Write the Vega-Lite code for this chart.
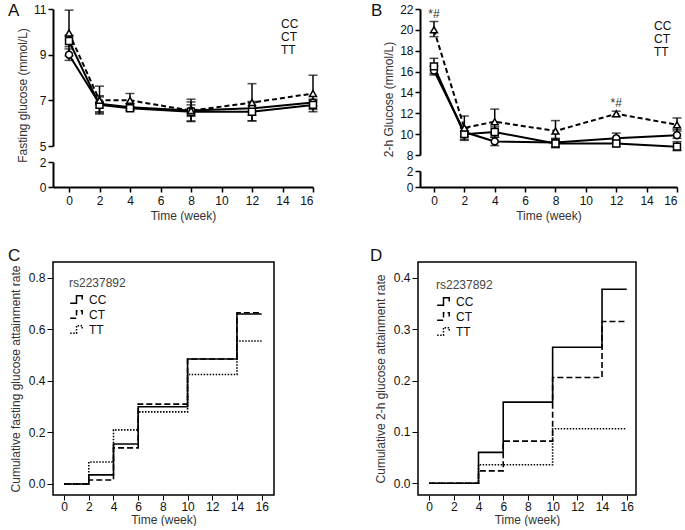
{
  "$schema": "https://vega.github.io/schema/vega-lite/v6.json",
  "padding": {"left": 7, "top": 2, "right": 0, "bottom": 0},
  "background": "white",
  "spacing": 25,
  "resolve": {"scale": {"shape": "independent", "strokeDash": "independent"}, "legend": {"shape": "independent", "strokeDash": "independent"}},
  "config": {
    "font": "Liberation Sans",
    "view": {"stroke": null},
    "axis": {"grid": false, "domainColor": "black", "domainWidth": 2, "tickColor": "black", "tickWidth": 1.5, "tickSize": 5, "labelFontSize": 12, "labelColor": "#111", "labelPadding": 2, "titleFontSize": 12, "titleFontWeight": "normal", "titleColor": "#333", "labelFont": "Liberation Sans", "titleFont": "Liberation Sans"},
    "axisX": {"labelPadding": 3, "titlePadding": 4},
    "legend": {"labelFontSize": 12, "labelColor": "#111", "titleFontSize": 12, "titleFontWeight": "normal", "titleColor": "#444", "labelFont": "Liberation Sans", "titleFont": "Liberation Sans"},
    "title": {"fontSize": 17, "fontWeight": "normal", "anchor": "start", "frame": "group", "offset": 0, "baseline": "alphabetic", "color": "#111"}
  },
  "datasets": {
    "fasting": [
      {"g": "CC", "t": 0, "m": 9.0, "lo": 8.75, "hi": 9.25},
      {"g": "CC", "t": 2, "m": 6.85, "lo": 6.5, "hi": 7.2},
      {"g": "CC", "t": 4, "m": 6.7, "lo": 6.55, "hi": 6.85},
      {"g": "CC", "t": 8, "m": 6.55, "lo": 6.3, "hi": 6.8},
      {"g": "CC", "t": 12, "m": 6.65, "lo": 6.35, "hi": 6.95},
      {"g": "CC", "t": 16, "m": 6.9, "lo": 6.75, "hi": 7.05},
      {"g": "CT", "t": 0, "m": 9.6, "lo": 9.35, "hi": 9.85},
      {"g": "CT", "t": 2, "m": 6.8, "lo": 6.45, "hi": 7.15},
      {"g": "CT", "t": 4, "m": 6.65, "lo": 6.55, "hi": 6.75},
      {"g": "CT", "t": 8, "m": 6.5, "lo": 6.07, "hi": 6.93},
      {"g": "CT", "t": 12, "m": 6.5, "lo": 6.1, "hi": 6.9},
      {"g": "CT", "t": 16, "m": 6.8, "lo": 6.6, "hi": 7.0},
      {"g": "TT", "t": 0, "m": 9.95, "lo": 8.95, "hi": 10.95},
      {"g": "TT", "t": 2, "m": 7.0, "lo": 6.4, "hi": 7.62},
      {"g": "TT", "t": 4, "m": 7.0, "lo": 6.7, "hi": 7.3},
      {"g": "TT", "t": 8, "m": 6.55, "lo": 6.1, "hi": 7.05},
      {"g": "TT", "t": 12, "m": 6.9, "lo": 6.1, "hi": 7.73},
      {"g": "TT", "t": 16, "m": 7.3, "lo": 6.5, "hi": 8.1}
    ],
    "ogtt": [
      {"g": "CC", "t": 0, "m": 16.1, "lo": 15.67, "hi": 16.5},
      {"g": "CC", "t": 2, "m": 10.2, "lo": 9.8, "hi": 10.6},
      {"g": "CC", "t": 4, "m": 9.3, "lo": 8.9, "hi": 9.7},
      {"g": "CC", "t": 8, "m": 9.2, "lo": 8.8, "hi": 9.6},
      {"g": "CC", "t": 12, "m": 9.6, "lo": 9.2, "hi": 10.1},
      {"g": "CC", "t": 16, "m": 9.9, "lo": 9.6, "hi": 10.45},
      {"g": "CT", "t": 0, "m": 16.5, "lo": 15.8, "hi": 17.27},
      {"g": "CT", "t": 2, "m": 10.0, "lo": 9.4, "hi": 10.6},
      {"g": "CT", "t": 4, "m": 10.2, "lo": 9.7, "hi": 10.7},
      {"g": "CT", "t": 8, "m": 9.1, "lo": 8.7, "hi": 9.5},
      {"g": "CT", "t": 12, "m": 9.1, "lo": 8.8, "hi": 9.4},
      {"g": "CT", "t": 16, "m": 8.8, "lo": 8.42, "hi": 9.28},
      {"g": "TT", "t": 0, "m": 20.0, "lo": 19.35, "hi": 20.8},
      {"g": "TT", "t": 2, "m": 10.6, "lo": 9.5, "hi": 11.74},
      {"g": "TT", "t": 4, "m": 11.2, "lo": 10.0, "hi": 12.4},
      {"g": "TT", "t": 8, "m": 10.3, "lo": 9.3, "hi": 11.3},
      {"g": "TT", "t": 12, "m": 11.95, "lo": 11.7, "hi": 12.2},
      {"g": "TT", "t": 16, "m": 10.9, "lo": 10.3, "hi": 11.55}
    ],
    "ann": [
      {"t": 0, "v": 20.8, "label": "*#"},
      {"t": 12, "v": 12.2, "label": "*#"}
    ],
    "fastAttain": [
      {"g": "CC", "t": 0, "r": 0}, {"g": "CC", "t": 2, "r": 0.035}, {"g": "CC", "t": 4, "r": 0.155}, {"g": "CC", "t": 6, "r": 0.3}, {"g": "CC", "t": 10, "r": 0.485}, {"g": "CC", "t": 14, "r": 0.66}, {"g": "CC", "t": 16, "r": 0.66},
      {"g": "CT", "t": 0, "r": 0}, {"g": "CT", "t": 2, "r": 0.015}, {"g": "CT", "t": 4, "r": 0.14}, {"g": "CT", "t": 6, "r": 0.31}, {"g": "CT", "t": 10, "r": 0.485}, {"g": "CT", "t": 14, "r": 0.665}, {"g": "CT", "t": 16, "r": 0.665},
      {"g": "TT", "t": 0, "r": 0}, {"g": "TT", "t": 2, "r": 0.085}, {"g": "TT", "t": 4, "r": 0.21}, {"g": "TT", "t": 6, "r": 0.28}, {"g": "TT", "t": 10, "r": 0.425}, {"g": "TT", "t": 14, "r": 0.555}, {"g": "TT", "t": 16, "r": 0.555}
    ],
    "ogttAttain": [
      {"g": "CC", "t": 0, "r": 0}, {"g": "CC", "t": 2, "r": 0}, {"g": "CC", "t": 4, "r": 0.06}, {"g": "CC", "t": 6, "r": 0.158}, {"g": "CC", "t": 10, "r": 0.265}, {"g": "CC", "t": 14, "r": 0.378}, {"g": "CC", "t": 16, "r": 0.378},
      {"g": "CT", "t": 0, "r": 0}, {"g": "CT", "t": 2, "r": 0}, {"g": "CT", "t": 4, "r": 0.024}, {"g": "CT", "t": 6, "r": 0.082}, {"g": "CT", "t": 10, "r": 0.206}, {"g": "CT", "t": 14, "r": 0.315}, {"g": "CT", "t": 16, "r": 0.315},
      {"g": "TT", "t": 0, "r": 0}, {"g": "TT", "t": 2, "r": 0}, {"g": "TT", "t": 4, "r": 0.036}, {"g": "TT", "t": 6, "r": 0.036}, {"g": "TT", "t": 10, "r": 0.106}, {"g": "TT", "t": 14, "r": 0.106}, {"g": "TT", "t": 16, "r": 0.106}
    ],
    "stub": [{"t": 0, "v": 0}]
  },
  "vconcat": [
    {
      "hconcat": [
        {
          "vconcat": [
            {
              "width": 260, "height": 137,
              "title": {"text": "A", "dx": -45, "dy": 21},
              "data": {"name": "fasting"},
              "encoding": {
                "x": {"field": "t", "type": "quantitative", "scale": {"domain": [-1.05, 16], "nice": false, "zero": false}, "axis": null}
              },
              "layer": [
                {"mark": {"type": "rule", "strokeWidth": 1.5, "color": "black"},
                 "encoding": {
                   "y": {"field": "lo", "type": "quantitative", "scale": {"domain": [5, 11], "nice": false, "zero": false}, "axis": {"values": [5, 7, 9, 11], "titleY": 86}, "title": "Fasting glucose (mmol/L)"},
                   "y2": {"field": "hi"}}},
                {"mark": {"type": "tick", "orient": "horizontal", "size": 9, "thickness": 1.5, "color": "black"},
                 "encoding": {
                   "y": {"field": "lo", "type": "quantitative", "scale": {"domain": [5, 11], "nice": false, "zero": false}, "axis": {"values": [5, 7, 9, 11], "titleY": 86}, "title": "Fasting glucose (mmol/L)"}}},
                {"mark": {"type": "tick", "orient": "horizontal", "size": 9, "thickness": 1.5, "color": "black"},
                 "encoding": {
                   "y": {"field": "hi", "type": "quantitative", "scale": {"domain": [5, 11], "nice": false, "zero": false}, "axis": {"values": [5, 7, 9, 11], "titleY": 86}, "title": "Fasting glucose (mmol/L)"}}},
                {"transform": [{"filter": "datum.g !== 'TT'"}],
                 "mark": {"type": "line", "strokeWidth": 2, "color": "black"},
                 "encoding": {
                   "y": {"field": "m", "type": "quantitative", "scale": {"domain": [5, 11], "nice": false, "zero": false}, "axis": {"values": [5, 7, 9, 11], "titleY": 86}, "title": "Fasting glucose (mmol/L)"},
                   "detail": {"field": "g", "type": "nominal"}}},
                {"transform": [{"filter": "datum.g === 'TT'"}],
                 "mark": {"type": "line", "strokeWidth": 2, "color": "black", "strokeDash": [5, 3]},
                 "encoding": {
                   "y": {"field": "m", "type": "quantitative", "scale": {"domain": [5, 11], "nice": false, "zero": false}, "axis": {"values": [5, 7, 9, 11], "titleY": 86}, "title": "Fasting glucose (mmol/L)"}}},
                {"transform": [{"filter": "datum.g === 'CC'"}],
                 "mark": {"type": "point", "shape": "circle", "filled": true, "fill": "white", "stroke": "black", "strokeWidth": 1.5, "size": 48, "opacity": 1},
                 "encoding": {
                   "y": {"field": "m", "type": "quantitative", "scale": {"domain": [5, 11], "nice": false, "zero": false}, "axis": {"values": [5, 7, 9, 11], "titleY": 86}, "title": "Fasting glucose (mmol/L)"}}},
                {"transform": [{"filter": "datum.g === 'CT'"}],
                 "mark": {"type": "point", "shape": "square", "filled": true, "fill": "white", "stroke": "black", "strokeWidth": 1.5, "size": 48, "opacity": 1},
                 "encoding": {
                   "y": {"field": "m", "type": "quantitative", "scale": {"domain": [5, 11], "nice": false, "zero": false}, "axis": {"values": [5, 7, 9, 11], "titleY": 86}, "title": "Fasting glucose (mmol/L)"}}},
                {"transform": [{"filter": "datum.g === 'TT'"}],
                 "mark": {"type": "point", "shape": "triangle-up", "filled": true, "fill": "white", "stroke": "black", "strokeWidth": 1.5, "size": 48, "opacity": 1},
                 "encoding": {
                   "y": {"field": "m", "type": "quantitative", "scale": {"domain": [5, 11], "nice": false, "zero": false}, "axis": {"values": [5, 7, 9, 11], "titleY": 86}, "title": "Fasting glucose (mmol/L)"}}},
                {"transform": [{"filter": "datum.g === 'legend-only'"}],
                 "mark": {"type": "point", "filled": true, "fill": "white", "stroke": "black", "strokeWidth": 1.5, "opacity": 1},
                 "encoding": {
                   "y": {"field": "m", "type": "quantitative", "scale": {"domain": [5, 11], "nice": false, "zero": false}, "axis": {"values": [5, 7, 9, 11], "titleY": 86}, "title": "Fasting glucose (mmol/L)"},
                   "shape": {"field": "g", "type": "nominal", "scale": {"domain": ["CC", "CT", "TT"], "range": ["M-2.2,0H-0.7M0.7,0H2.2M0.7,0A0.7,0.7,0,1,1,-0.7,0A0.7,0.7,0,1,1,0.7,0", "M-2.2,0H-0.65M0.65,0H2.2M-0.65,-0.65H0.65V0.65H-0.65Z", "M-2.2,0.2H-1.5M-1.2,0.2H-0.85M0.85,0.2H1.2M1.5,0.2H2.2M0,-0.75L0.75,0.55H-0.75Z"]},
                     "legend": {"title": null, "orient": "none", "legendX": 204, "legendY": 9, "symbolSize": 100, "symbolOpacity": 1, "symbolFillColor": "white", "symbolStrokeColor": "black", "symbolStrokeWidth": 1.5, "labelOffset": 12, "rowPadding": -4.5}}}}
              ]
            },
            {
              "width": 260, "height": 25,
              "data": {"name": "stub"},
              "mark": {"type": "point", "opacity": 0},
              "encoding": {
                "x": {"field": "t", "type": "quantitative", "scale": {"domain": [-1.05, 16], "nice": false, "zero": false}, "axis": {"values": [0, 2, 4, 6, 8, 10, 12, 14, 16]}, "title": "Time (week)"},
                "y": {"field": "v", "type": "quantitative", "scale": {"domain": [0, 2], "nice": false, "zero": false}, "axis": {"values": [0, 2]}, "title": null}
              }
            }
          ],
          "spacing": 16,
          "bounds": "flush",
          "resolve": {"scale": {"shape": "independent", "strokeDash": "independent"}, "legend": {"shape": "independent", "strokeDash": "independent"}}
        },
        {
          "vconcat": [
            {
              "width": 257, "height": 146,
              "title": {"text": "B", "dx": -49, "dy": 21},
              "data": {"name": "ogtt"},
              "encoding": {
                "x": {"field": "t", "type": "quantitative", "scale": {"domain": [-0.92, 16], "nice": false, "zero": false}, "axis": null}
              },
              "layer": [
                {"mark": {"type": "rule", "strokeWidth": 1.5, "color": "black"},
                 "encoding": {
                   "y": {"field": "lo", "type": "quantitative", "scale": {"domain": [8, 22], "nice": false, "zero": false}, "axis": {"values": [8, 10, 12, 14, 16, 18, 20, 22], "titleY": 90}, "title": "2-h Glucose (mmol/L)"},
                   "y2": {"field": "hi"}}},
                {"mark": {"type": "tick", "orient": "horizontal", "size": 9, "thickness": 1.5, "color": "black"},
                 "encoding": {
                   "y": {"field": "lo", "type": "quantitative", "scale": {"domain": [8, 22], "nice": false, "zero": false}, "axis": {"values": [8, 10, 12, 14, 16, 18, 20, 22], "titleY": 90}, "title": "2-h Glucose (mmol/L)"}}},
                {"mark": {"type": "tick", "orient": "horizontal", "size": 9, "thickness": 1.5, "color": "black"},
                 "encoding": {
                   "y": {"field": "hi", "type": "quantitative", "scale": {"domain": [8, 22], "nice": false, "zero": false}, "axis": {"values": [8, 10, 12, 14, 16, 18, 20, 22], "titleY": 90}, "title": "2-h Glucose (mmol/L)"}}},
                {"transform": [{"filter": "datum.g !== 'TT'"}],
                 "mark": {"type": "line", "strokeWidth": 2, "color": "black"},
                 "encoding": {
                   "y": {"field": "m", "type": "quantitative", "scale": {"domain": [8, 22], "nice": false, "zero": false}, "axis": {"values": [8, 10, 12, 14, 16, 18, 20, 22], "titleY": 90}, "title": "2-h Glucose (mmol/L)"},
                   "detail": {"field": "g", "type": "nominal"}}},
                {"transform": [{"filter": "datum.g === 'TT'"}],
                 "mark": {"type": "line", "strokeWidth": 2, "color": "black", "strokeDash": [5, 3]},
                 "encoding": {
                   "y": {"field": "m", "type": "quantitative", "scale": {"domain": [8, 22], "nice": false, "zero": false}, "axis": {"values": [8, 10, 12, 14, 16, 18, 20, 22], "titleY": 90}, "title": "2-h Glucose (mmol/L)"}}},
                {"transform": [{"filter": "datum.g === 'CC'"}],
                 "mark": {"type": "point", "shape": "circle", "filled": true, "fill": "white", "stroke": "black", "strokeWidth": 1.5, "size": 48, "opacity": 1},
                 "encoding": {
                   "y": {"field": "m", "type": "quantitative", "scale": {"domain": [8, 22], "nice": false, "zero": false}, "axis": {"values": [8, 10, 12, 14, 16, 18, 20, 22], "titleY": 90}, "title": "2-h Glucose (mmol/L)"}}},
                {"transform": [{"filter": "datum.g === 'CT'"}],
                 "mark": {"type": "point", "shape": "square", "filled": true, "fill": "white", "stroke": "black", "strokeWidth": 1.5, "size": 48, "opacity": 1},
                 "encoding": {
                   "y": {"field": "m", "type": "quantitative", "scale": {"domain": [8, 22], "nice": false, "zero": false}, "axis": {"values": [8, 10, 12, 14, 16, 18, 20, 22], "titleY": 90}, "title": "2-h Glucose (mmol/L)"}}},
                {"transform": [{"filter": "datum.g === 'TT'"}],
                 "mark": {"type": "point", "shape": "triangle-up", "filled": true, "fill": "white", "stroke": "black", "strokeWidth": 1.5, "size": 48, "opacity": 1},
                 "encoding": {
                   "y": {"field": "m", "type": "quantitative", "scale": {"domain": [8, 22], "nice": false, "zero": false}, "axis": {"values": [8, 10, 12, 14, 16, 18, 20, 22], "titleY": 90}, "title": "2-h Glucose (mmol/L)"}}},
                {"transform": [{"filter": "datum.g === 'legend-only'"}],
                 "mark": {"type": "point", "filled": true, "fill": "white", "stroke": "black", "strokeWidth": 1.5, "opacity": 1},
                 "encoding": {
                   "y": {"field": "m", "type": "quantitative", "scale": {"domain": [8, 22], "nice": false, "zero": false}, "axis": {"values": [8, 10, 12, 14, 16, 18, 20, 22], "titleY": 90}, "title": "2-h Glucose (mmol/L)"},
                   "shape": {"field": "g", "type": "nominal", "scale": {"domain": ["CC", "CT", "TT"], "range": ["M-2.2,0H-0.7M0.7,0H2.2M0.7,0A0.7,0.7,0,1,1,-0.7,0A0.7,0.7,0,1,1,0.7,0", "M-2.2,0H-0.65M0.65,0H2.2M-0.65,-0.65H0.65V0.65H-0.65Z", "M-2.2,0.2H-1.5M-1.2,0.2H-0.85M0.85,0.2H1.2M1.5,0.2H2.2M0,-0.75L0.75,0.55H-0.75Z"]},
                     "legend": {"title": null, "orient": "none", "legendX": 210, "legendY": 11, "symbolSize": 100, "symbolOpacity": 1, "symbolFillColor": "white", "symbolStrokeColor": "black", "symbolStrokeWidth": 1.5, "labelOffset": 12, "rowPadding": -2.5}}}},
                {"data": {"name": "ann"},
                 "mark": {"type": "text", "dy": -4, "baseline": "alphabetic", "fontSize": 12, "fill": "#333"},
                 "encoding": {
                   "y": {"field": "v", "type": "quantitative", "scale": {"domain": [8, 22], "nice": false, "zero": false}, "axis": {"values": [8, 10, 12, 14, 16, 18, 20, 22], "titleY": 90}, "title": "2-h Glucose (mmol/L)"},
                   "text": {"field": "label"}}}
              ]
            },
            {
              "width": 257, "height": 16,
              "data": {"name": "stub"},
              "mark": {"type": "point", "opacity": 0},
              "encoding": {
                "x": {"field": "t", "type": "quantitative", "scale": {"domain": [-0.92, 16], "nice": false, "zero": false}, "axis": {"values": [0, 2, 4, 6, 8, 10, 12, 14, 16]}, "title": "Time (week)"},
                "y": {"field": "v", "type": "quantitative", "scale": {"domain": [0, 2], "nice": false, "zero": false}, "axis": {"values": [0, 2]}, "title": null}
              }
            }
          ],
          "spacing": 16,
          "bounds": "flush",
          "resolve": {"scale": {"shape": "independent", "strokeDash": "independent"}, "legend": {"shape": "independent", "strokeDash": "independent"}}
        }
      ],
      "spacing": 51,
      "resolve": {"scale": {"shape": "independent", "strokeDash": "independent"}, "legend": {"shape": "independent", "strokeDash": "independent"}}
    },
    {
      "hconcat": [
        {
          "width": 221, "height": 233,
          "view": {"stroke": "black", "strokeWidth": 1.5},
          "title": {"text": "C", "dx": -45, "dy": 7},
          "data": {"name": "fastAttain"},
          "mark": {"type": "line", "interpolate": "step-after", "strokeWidth": 1.6, "color": "black"},
          "encoding": {
            "x": {"field": "t", "type": "quantitative", "scale": {"domain": [-0.9, 17], "nice": false, "zero": false}, "axis": {"values": [0, 2, 4, 6, 8, 10, 12, 14, 16], "domain": false, "tickWidth": 1, "labelPadding": 1, "titlePadding": 2}, "title": "Time (week)"},
            "y": {"field": "r", "type": "quantitative", "scale": {"domain": [-0.043, 0.862], "nice": false, "zero": false}, "axis": {"values": [0, 0.2, 0.4, 0.6, 0.8], "format": ".1f", "domain": false, "tickWidth": 1, "tickSize": 6, "titlePadding": 6}, "title": "Cumulative fasting glucose attainment rate"},
            "strokeDash": {"field": "g", "type": "nominal", "scale": {"domain": ["CC", "CT", "TT"], "range": [[1, 0], [6, 3], [1.5, 1.5]]},
              "legend": {"title": "rs2237892", "orient": "top-left", "offset": 16, "symbolType": "M-1,0.6H0V-0.6H0.9V0", "symbolSize": 160, "symbolStrokeWidth": 1.5, "symbolStrokeColor": "black", "symbolFillColor": "transparent", "labelOffset": 5, "rowPadding": -5.5, "titlePadding": 2}}
          }
        },
        {
          "width": 218, "height": 233,
          "view": {"stroke": "black", "strokeWidth": 1.5},
          "title": {"text": "D", "dx": -48, "dy": 7},
          "data": {"name": "ogttAttain"},
          "mark": {"type": "line", "interpolate": "step-after", "strokeWidth": 1.6, "color": "black"},
          "encoding": {
            "x": {"field": "t", "type": "quantitative", "scale": {"domain": [-0.9, 16.75], "nice": false, "zero": false}, "axis": {"values": [0, 2, 4, 6, 8, 10, 12, 14, 16], "domain": false, "tickWidth": 1, "labelPadding": 1, "titlePadding": 2}, "title": "Time (week)"},
            "y": {"field": "r", "type": "quantitative", "scale": {"domain": [-0.023, 0.431], "nice": false, "zero": false}, "axis": {"values": [0, 0.1, 0.2, 0.3, 0.4], "format": ".1f", "domain": false, "tickWidth": 1, "tickSize": 6, "titlePadding": 6}, "title": "Cumulative 2-h glucose attainment rate"},
            "strokeDash": {"field": "g", "type": "nominal", "scale": {"domain": ["CC", "CT", "TT"], "range": [[1, 0], [6, 3], [1.5, 1.5]]},
              "legend": {"title": "rs2237892", "orient": "top-left", "offset": 18, "symbolType": "M-1,0.6H0V-0.6H0.9V0", "symbolSize": 160, "symbolStrokeWidth": 1.5, "symbolStrokeColor": "black", "symbolFillColor": "transparent", "labelOffset": 5, "rowPadding": -5.5, "titlePadding": 2}}
          }
        }
      ],
      "spacing": 94,
      "resolve": {"scale": {"shape": "independent", "strokeDash": "independent"}, "legend": {"shape": "independent", "strokeDash": "independent"}}
    }
  ]
}
